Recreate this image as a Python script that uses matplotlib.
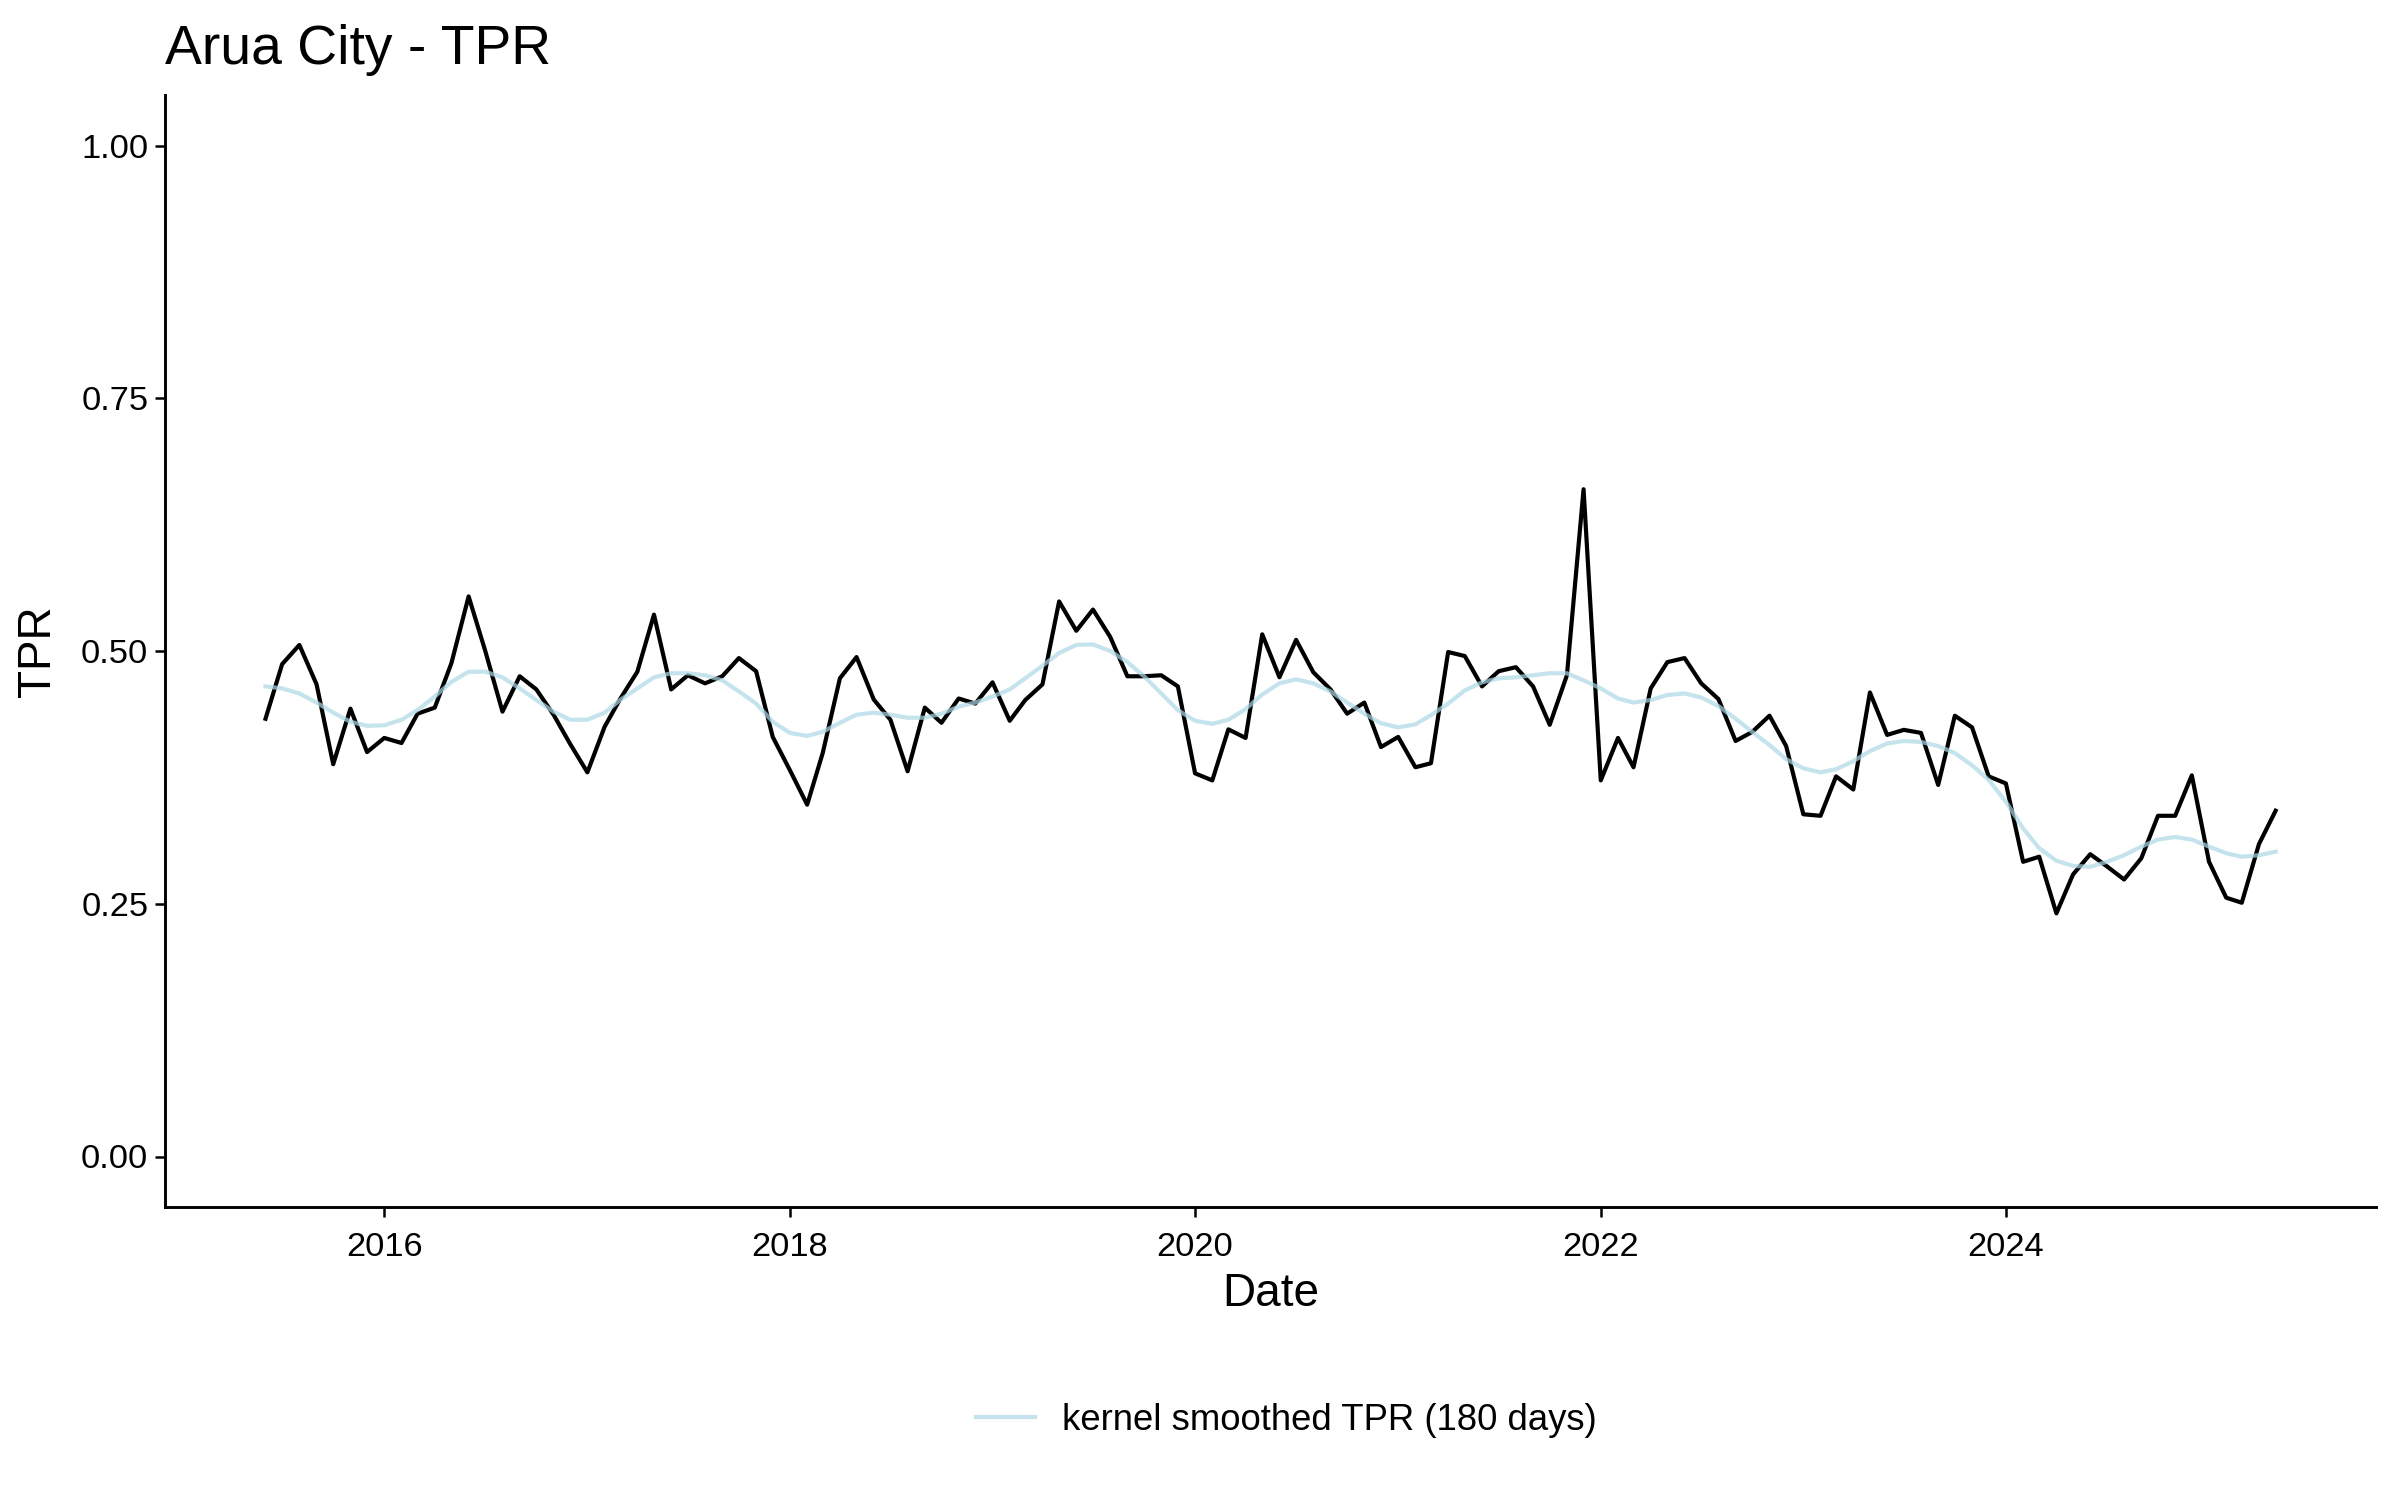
import matplotlib
matplotlib.use("Agg")
import matplotlib.pyplot as plt
import matplotlib.dates as mdates
import pandas as pd
import numpy as np

plt.rcParams['font.family'] = ['Liberation Sans', 'DejaVu Sans']

start_month = "2015-06-01"
n_months = 120

tpr = [
    # 2015 Jun-Dec
    0.433, 0.487, 0.506, 0.467, 0.388, 0.443, 0.400,
    # 2016
    0.414, 0.409, 0.438, 0.444, 0.488, 0.554, 0.500, 0.440, 0.475, 0.462, 0.437, 0.408,
    # 2017
    0.380, 0.425, 0.4525, 0.4795, 0.536, 0.462, 0.476, 0.468, 0.475, 0.493, 0.480, 0.415,
    # 2018
    0.382, 0.348, 0.399, 0.473, 0.494, 0.452, 0.432, 0.381, 0.444, 0.429, 0.453, 0.448,
    # 2019
    0.469, 0.431, 0.4515, 0.467, 0.549, 0.520, 0.541, 0.514, 0.475, 0.475, 0.476, 0.465,
    # 2020
    0.379, 0.372, 0.4225, 0.414, 0.5165, 0.474, 0.511, 0.479, 0.462, 0.438, 0.449, 0.405,
    # 2021
    0.415, 0.385, 0.389, 0.499, 0.495, 0.465, 0.480, 0.484, 0.465, 0.427, 0.476, 0.660,
    # 2022
    0.372, 0.414, 0.385, 0.463, 0.489, 0.493, 0.468, 0.4525, 0.411, 0.420, 0.436, 0.406,
    # 2023
    0.3385, 0.337, 0.376, 0.363, 0.459, 0.417, 0.422, 0.419, 0.3675, 0.436, 0.4245, 0.376,
    # 2024
    0.369, 0.2915, 0.2965, 0.2405, 0.279, 0.299, 0.287, 0.274, 0.295, 0.337, 0.337, 0.377,
    # 2025 Jan-May
    0.2915, 0.256, 0.251, 0.309, 0.342,
]

tpr_smooth = [
    0.465, 0.463, 0.458, 0.449, 0.439, 0.430, 0.426,
    0.4265, 0.432, 0.4415, 0.455, 0.4695, 0.4795, 0.4795, 0.474, 0.463, 0.4515, 0.440, 0.432,
    0.432, 0.439, 0.4515, 0.463, 0.474, 0.478, 0.478, 0.476, 0.471, 0.460, 0.448, 0.430,
    0.419, 0.416, 0.420, 0.429, 0.437, 0.439, 0.437, 0.434, 0.434, 0.438, 0.445, 0.449,
    0.455, 0.462, 0.473, 0.4855, 0.498, 0.506, 0.5065, 0.500, 0.489, 0.475, 0.458, 0.4415,
    0.431, 0.428, 0.432, 0.4425, 0.457, 0.468, 0.472, 0.468, 0.460, 0.449, 0.438, 0.4285,
    0.4245, 0.4275, 0.4365, 0.448, 0.461, 0.469, 0.473, 0.474, 0.476, 0.478, 0.478, 0.471,
    0.463, 0.453, 0.449, 0.4515, 0.4565, 0.458, 0.454, 0.4455, 0.433, 0.420, 0.407, 0.393,
    0.384, 0.380, 0.383, 0.391, 0.401, 0.4085, 0.411, 0.410, 0.406, 0.399, 0.387, 0.3725,
    0.351, 0.3245, 0.305, 0.2925, 0.2875, 0.2865, 0.2915, 0.298, 0.3065, 0.3135, 0.316, 0.3135,
    0.3065, 0.300, 0.2965, 0.298, 0.3015,
]

y_ticks = [0.00, 0.25, 0.50, 0.75, 1.00]
x_tick_years = [2016, 2018, 2020, 2022, 2024]

title = "Arua City - TPR"
x_label = "Date"
y_label = "TPR"
legend_label = "kernel smoothed TPR (180 days)"

dates = pd.date_range(start_month, periods=n_months, freq="MS")

fig = plt.figure(figsize=(16, 10), dpi=150)
ax = fig.add_axes([0.06875, 0.1953, 0.9213, 0.7414])

ax.plot(dates, tpr, color="black", linewidth=2.0, zorder=2)
smooth_line, = ax.plot(dates, tpr_smooth, color="lightblue", alpha=0.7,
                       linewidth=2.0, zorder=3)

ax.set_ylim(-0.05, 1.05)
ax.margins(x=0.05)
ax.set_yticks(y_ticks)
ax.set_yticklabels([f"{v:.2f}" for v in y_ticks])
ax.set_xticks([pd.Timestamp(f"{y}-01-01") for y in x_tick_years])
ax.xaxis.set_major_formatter(mdates.DateFormatter("%Y"))

for s in ["top", "right"]:
    ax.spines[s].set_visible(False)
for s in ["left", "bottom"]:
    ax.spines[s].set_linewidth(1.4)
    ax.spines[s].set_color("black")
ax.tick_params(axis="both", direction="out", length=5, width=1.2,
               colors="black", labelsize=16.5)
ax.tick_params(axis="x", pad=7)
ax.tick_params(axis="y", pad=3)

fig.text(0.5296, 0.137, x_label, fontsize=22, ha="center", va="center")
fig.text(0.0158, 0.566, y_label, fontsize=22, ha="center", va="center",
         rotation=90)
fig.text(0.06875, 0.957, title, fontsize=26.5, ha="left", va="baseline")

fig.legend([smooth_line], [legend_label], loc="center",
           bbox_to_anchor=(0.536, 0.053), frameon=False, fontsize=17.5,
           handlelength=1.6, handletextpad=0.75)

fig.savefig("out.png", dpi=150, facecolor="white")
